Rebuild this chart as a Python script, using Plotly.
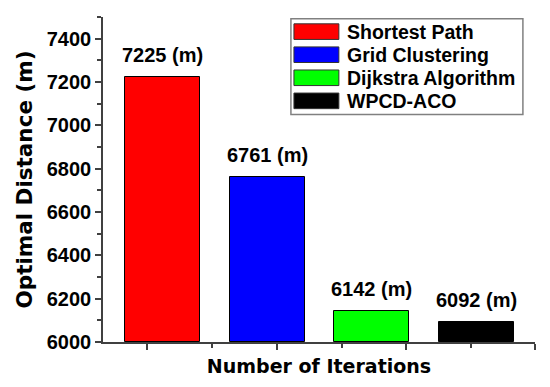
import plotly.graph_objects as go

methods = ["Shortest Path", "Grid Clustering", "Dijkstra Algorithm", "WPCD-ACO"]
distances = [7225, 6761, 6142, 6092]
colors = ["#ff0000", "#0000ff", "#00ff00", "#000000"]
positions = [1, 2, 3, 4]
y_ticks = [6000, 6200, 6400, 6600, 6800, 7000, 7200, 7400]

FONT = "Liberation Sans, Arial, sans-serif"
TFONT = "DejaVu Sans, sans-serif"

fig = go.Figure()
for m, d, c, p in zip(methods, distances, colors, positions):
    fig.add_trace(go.Bar(
        x=[p], y=[d - 6000], base=6000, name=m,
        marker=dict(color=c, line=dict(color="black", width=1)),
        width=0.716, showlegend=False,
    ))
    fig.add_annotation(
        x=p, y=d, text=f"<b>{d} (m)</b>", showarrow=False,
        yanchor="bottom", yshift=9,
        font=dict(family=FONT, size=20, color="black"),
    )

# manual legend (large swatches as in the reference)
row_h = 0.071
fig.add_shape(type="rect", xref="paper", yref="paper",
              x0=0.435, x1=0.972, y0=0.70, y1=0.995,
              line=dict(color="#808080", width=1.5), fillcolor="white")
for i, (m, c) in enumerate(zip(methods, colors)):
    yc = 0.955 - i * row_h
    fig.add_shape(type="rect", xref="paper", yref="paper",
                  x0=0.442, x1=0.546, y0=yc - 0.024, y1=yc + 0.024,
                  line=dict(color="#333333", width=1), fillcolor=c)
    fig.add_annotation(xref="paper", yref="paper", x=0.56, y=yc,
                       text=f"<b>{m}</b>", showarrow=False,
                       xanchor="left", yanchor="middle",
                       font=dict(family=FONT, size=19.5, color="black"))

fig.update_layout(
    width=542, height=379,
    margin=dict(l=95, r=15, t=8.5, b=45, autoexpand=False),
    plot_bgcolor="white", paper_bgcolor="white",
    bargap=0,
    xaxis=dict(
        range=[0.432, 4.558], showgrid=False, zeroline=False, automargin=False,
        showline=True, linecolor="#404040", linewidth=1.5,
        ticks="outside", ticklen=6, tickcolor="#404040", tickwidth=1.5,
        tickvals=[0.852, 2.094, 3.326, 4.558], showticklabels=False,
        minor=dict(tickvals=[1.473, 2.71, 3.942], ticks="outside", ticklen=4,
                   tickcolor="#404040", tickwidth=1.5),
        title=dict(text="<b>Number of Iterations</b>", standoff=11,
                   font=dict(family=TFONT, size=19, color="black")),
    ),
    yaxis=dict(
        range=[6000, 7500], showgrid=False, zeroline=False, automargin=False,
        showline=True, linecolor="#404040", linewidth=1.5,
        ticks="outside", ticklen=6, tickcolor="#404040", tickwidth=1.5,
        tickvals=y_ticks, ticktext=[f"<b>{v}</b>" for v in y_ticks],
        tickfont=dict(family=FONT, size=20, color="black"),
        minor=dict(dtick=100, ticks="outside", ticklen=4,
                   tickcolor="#404040", tickwidth=1.5),
        title=dict(text="<b>Optimal Distance (m)</b>", standoff=8,
                   font=dict(family=TFONT, size=21.5, color="black")),
    ),
)

fig.write_html("out.html")
